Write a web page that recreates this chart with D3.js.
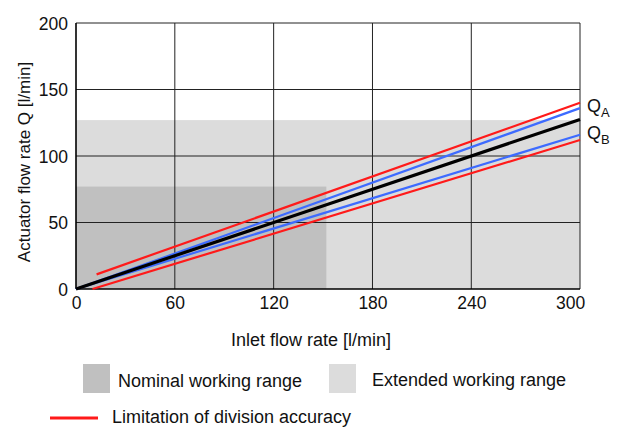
<!DOCTYPE html>
<html><head><meta charset="utf-8">
<script src="https://cdn.jsdelivr.net/npm/d3@7"></script>
<style>body{margin:0;background:#fff}svg{display:block;font-family:"Liberation Sans",Arial,sans-serif}</style>
</head><body><svg id="c" width="622" height="427"></svg>
<script>
const xTicks = [0, 60, 120, 180, 240, 300];
const yTicks = [0, 50, 100, 150, 200];
const xMax = 306;
// working ranges [x0, x1, yMax]
const nominalRange = [0, 152, 77];
const extendedRange = [0, 306, 127];
// lines: [x, y] points
const qMean = [[0, 0], [306, 127.5]];
const qA = [[0, 0], [306, 136]];
const qB = [[0, 0], [306, 116]];
const limitUpper = [[12.5, 11], [306, 140]];
const limitLower = [[10, 0], [306, 112]];
const legendLabels = ["Nominal working range", "Extended working range", "Limitation of division accuracy"];

const svg = d3.select("#c");
const x = d3.scaleLinear().domain([0, xMax]).range([76, 580]);
const y = d3.scaleLinear().domain([0, 200]).range([289, 23]);

// regions
svg.append("rect").attr("x", x(extendedRange[0])).attr("y", y(extendedRange[2]))
  .attr("width", x(extendedRange[1]) - x(extendedRange[0])).attr("height", y(0) - y(extendedRange[2]))
  .attr("fill", "#dcdcdc");
svg.append("rect").attr("x", x(nominalRange[0])).attr("y", y(nominalRange[2]))
  .attr("width", x(nominalRange[1]) - x(nominalRange[0])).attr("height", y(0) - y(nominalRange[2]))
  .attr("fill", "#c0c0c0");

// grid
const g = svg.append("g");
g.selectAll(".vx").data(xTicks.filter(d => d > 0 && d < 300)).join("line")
  .attr("x1", d => x(d)).attr("x2", d => x(d)).attr("y1", y(0)).attr("y2", y(200))
  .attr("stroke", "#222").attr("stroke-width", 1);
g.selectAll(".hy").data(yTicks.filter(d => d > 0)).join("line")
  .attr("x1", x(0)).attr("x2", x(xMax)).attr("y1", d => y(d)).attr("y2", d => y(d))
  .attr("stroke", "#222").attr("stroke-width", 1);
g.append("line").attr("x1", x(xMax)).attr("x2", x(xMax)).attr("y1", y(0)).attr("y2", y(200))
  .attr("stroke", "#222").attr("stroke-width", 1);

// axes
const xa = svg.append("g").attr("transform", `translate(0,${y(0)})`)
  .call(d3.axisBottom(x).tickValues(xTicks).tickSize(0).tickPadding(8));
const ya = svg.append("g").attr("transform", `translate(${x(0)},0)`)
  .call(d3.axisLeft(y).tickValues(yTicks).tickSize(0).tickPadding(8));
[xa, ya].forEach(a => {
  a.select(".domain").attr("stroke", "#000").attr("stroke-width", 1.6);
  a.selectAll("text").attr("font-size", 17.5).attr("fill", "#111").attr("font-family", "Liberation Sans, Arial, sans-serif");
});
ya.selectAll("text").attr("dy", "0.36em");
xa.select(".domain").attr("d", `M${x(0)},0H${x(xMax)}`);
ya.select(".domain").attr("d", `M0,${y(0)}V${y(200)}`);

// lines
const line = d3.line().x(d => x(d[0])).y(d => y(d[1]));
const drawLine = (data, color, w) => svg.append("path").datum(data).attr("d", line)
  .attr("fill", "none").attr("stroke", color).attr("stroke-width", w);
drawLine(limitUpper, "#ff1a1a", 2.2);
drawLine(limitLower, "#ff1a1a", 2.2);
drawLine(qA, "#3d6bff", 2.2);
drawLine(qB, "#3d6bff", 2.2);
drawLine(qMean, "#000", 3.2);

// Q labels
const qlab = (txt, sub, yy) => {
  const t = svg.append("text").attr("x", 587).attr("y", yy).attr("font-size", 18).attr("fill", "#111");
  t.append("tspan").text(txt);
  t.append("tspan").text(sub).attr("font-size", 13).attr("dy", 5);
};
qlab("Q", "A", 112);
qlab("Q", "B", 139);

// axis titles
svg.append("text").attr("x", 311).attr("y", 346).attr("text-anchor", "middle")
  .attr("font-size", 18).attr("fill", "#111").text("Inlet flow rate [l/min]");
svg.append("text").attr("transform", "translate(30,162) rotate(-90)").attr("text-anchor", "middle")
  .attr("font-size", 17).attr("fill", "#111").text("Actuator flow rate Q [l/min]");

// legend
svg.append("rect").attr("x", 83).attr("y", 364).attr("width", 27).attr("height", 29).attr("fill", "#c0c0c0");
svg.append("text").attr("x", 118).attr("y", 387).attr("font-size", 18).attr("fill", "#111").text(legendLabels[0]);
svg.append("rect").attr("x", 329).attr("y", 364).attr("width", 27).attr("height", 29).attr("fill", "#dcdcdc");
svg.append("text").attr("x", 372).attr("y", 386).attr("font-size", 18).attr("fill", "#111").text(legendLabels[1]);
svg.append("line").attr("x1", 50).attr("x2", 98).attr("y1", 418).attr("y2", 418).attr("stroke", "#ff1a1a").attr("stroke-width", 3);
svg.append("text").attr("x", 112).attr("y", 423).attr("font-size", 18).attr("fill", "#111").text(legendLabels[2]);
</script></body></html>
